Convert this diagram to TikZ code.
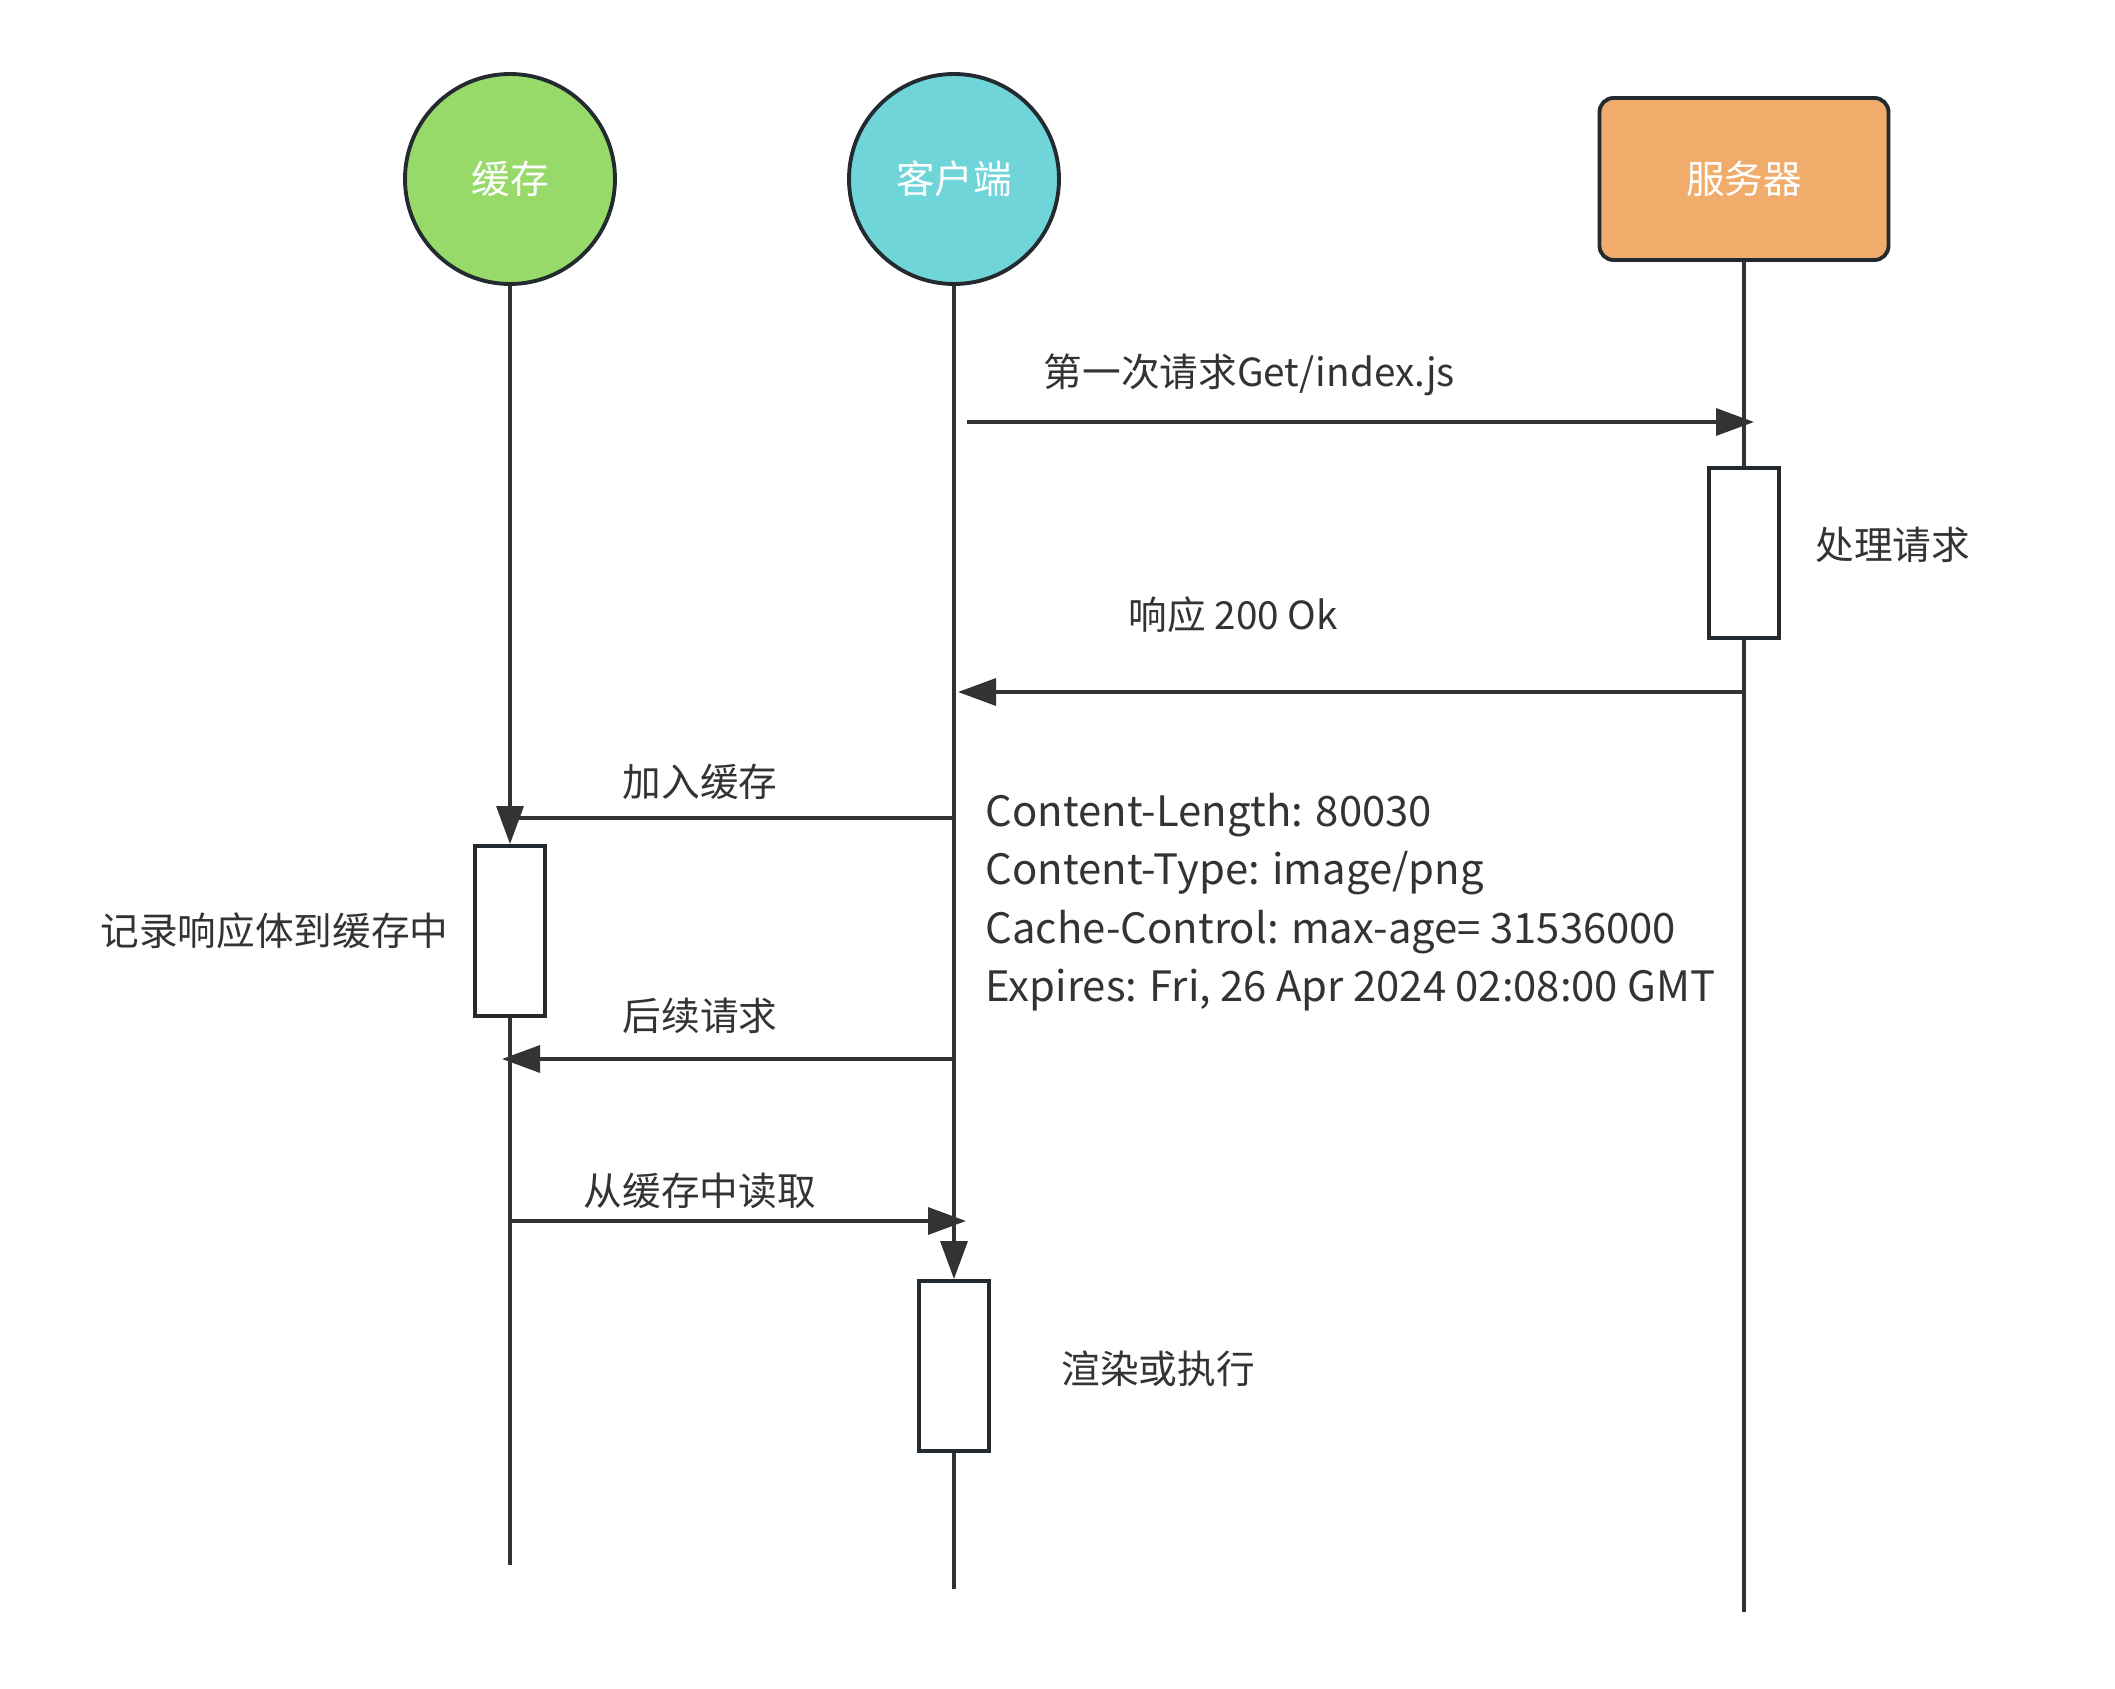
\documentclass[tikz,border=0pt]{standalone}
\usepackage{fontspec}
\setmainfont{Noto Sans CJK SC}
\usetikzlibrary{arrows.meta,positioning}
\definecolor{edgec}{HTML}{232A30}
\definecolor{linec}{HTML}{333333}
\definecolor{cachec}{HTML}{97DA6A}
\definecolor{clientc}{HTML}{6FD5D8}
\definecolor{serverc}{HTML}{F0AC6A}

\begin{document}
\begin{tikzpicture}[
    actor/.style={circle, draw=edgec, line width=1.1pt, minimum size=2.1cm, text=white, font=\fontsize{11}{13}\selectfont},
    host/.style={rectangle, rounded corners=4pt, draw=edgec, line width=1.1pt, minimum width=2.89cm, minimum height=1.62cm, text=white, font=\fontsize{11}{13}\selectfont},
    actbox/.style={draw=edgec, fill=white, line width=1.1pt, minimum width=0.7cm, minimum height=1.7cm, inner sep=0pt},
    life/.style={draw=linec, line width=0.95pt},
    msg/.style={life, -{Triangle[length=0.38cm, width=0.27cm]}},
    lbl/.style={text=linec, font=\fontsize{11}{13}\selectfont, inner sep=0pt, anchor=west},
    hdr/.style={text=linec, font=\fontsize{11.9}{16.6}\selectfont, inner sep=0pt, align=left, anchor=west}
]
\useasboundingbox (0,0) rectangle (21.15,-16.89);

% 参与者
\node[actor, fill=cachec] (cache) at (5.10,-1.79) {缓存};
\node[actor, fill=clientc] (client) at (9.54,-1.79) {客户端};
\node[host, fill=serverc] (server) at (17.44,-1.79) {服务器};

% 激活框
\node[actbox] (pbox) at (17.44,-5.53) {};
\node[actbox] (cbox) at (5.10,-9.31) {};
\node[actbox] (rbox) at (9.54,-13.66) {};

% 生命线
\coordinate (cache end) at (5.10,-15.65);
\coordinate (client end) at (9.54,-15.89);
\coordinate (server end) at (17.44,-16.12);
\draw[msg] (cache) -- (cbox);
\draw[life] (cbox) -- (cache end);
\draw[msg] (client) -- (rbox);
\draw[life] (rbox) -- (client end);
\draw[life] (server) -- (pbox);
\draw[life] (pbox) -- (server end);

% 消息高度
\coordinate (m1) at (0,-4.22);
\coordinate (m2) at (0,-6.92);
\coordinate (m3) at (0,-8.18);
\coordinate (m4) at (0,-10.59);
\coordinate (m5) at (0,-12.21);

% 消息
\draw[msg] ([xshift=1.3mm]client |- m1) -- ([xshift=1mm]server |- m1);
\draw[msg] (server |- m2) -- ([xshift=0.4mm]client |- m2);
\draw[life] (client |- m3) -- (cache |- m3);
\draw[msg] (client |- m4) -- ([xshift=-0.8mm]cache |- m4);
\draw[msg] (cache |- m5) -- ([xshift=1.2mm]client |- m5);

% 标签
\node[lbl] (first) at (10.43,-3.75) {第一次请求Get/index.js};
\node[lbl] (resp) at (11.28,-6.15) {响应 200 Ok};
\node[lbl, right=0.34cm of pbox, yshift=0.08cm] (handle) {处理请求};
\node[lbl] (store) at (6.22,-7.82) {加入缓存};
\node[lbl, left=0.24cm of cbox] (record) {记录响应体到缓存中};
\node[lbl] (later) at (6.22,-10.16) {后续请求};
\node[lbl] (read) at (5.83,-11.91) {从缓存中读取};
\node[lbl, right=0.7cm of rbox, yshift=-0.03cm] (render) {渲染或执行};

% 响应头
\node[hdr] (headers) at (9.85,-9.02) {Content-Length: 80030\\
Content-Type: image/png\\
Cache-Control: max-age= 31536000\\
Expires: Fri, 26 Apr 2024 02:08:00 GMT};

\end{tikzpicture}
\end{document}
